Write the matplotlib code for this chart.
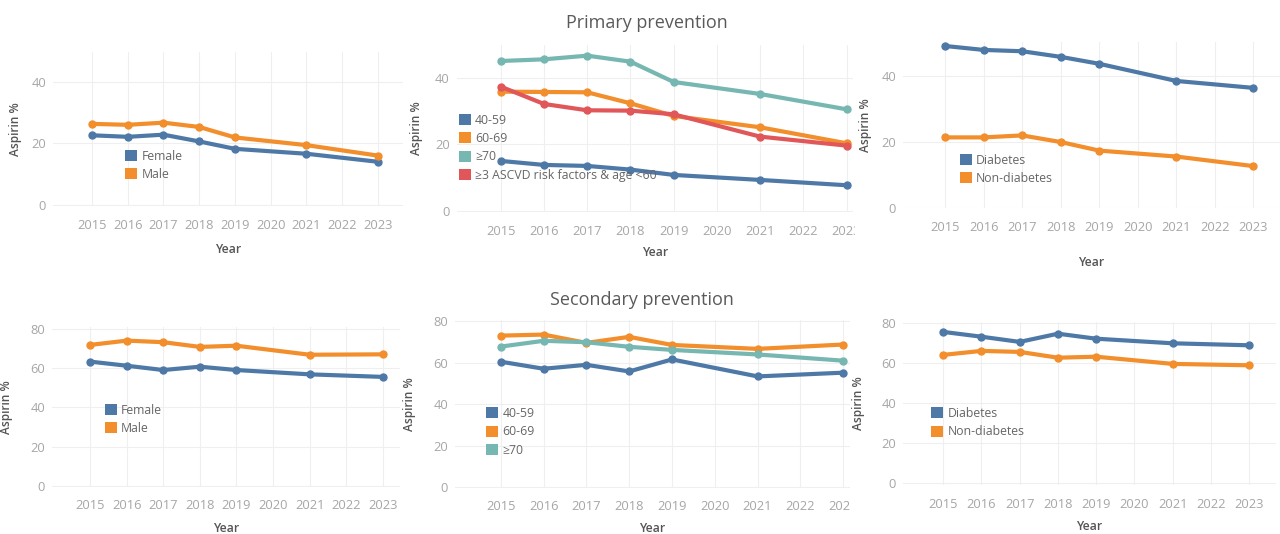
import matplotlib
matplotlib.use("Agg")
import matplotlib.pyplot as plt
from matplotlib.patches import Patch
from matplotlib.transforms import Bbox

plt.rcParams['font.family'] = ['Open Sans', 'DejaVu Sans']

W, H = 1280, 534

years = [2015, 2016, 2017, 2018, 2019, 2021, 2023]
year_ticks = list(range(2015, 2024))

# primary prevention (%)
p_female = [22.6, 22.1, 22.8, 20.6, 18.2, 16.6, 14.0]
p_male = [26.3, 26.0, 26.7, 25.3, 21.9, 19.4, 16.0]
p_40_59 = [15.0, 13.8, 13.5, 12.4, 10.8, 9.3, 7.7]
p_60_69 = [35.8, 35.7, 35.6, 32.3, 28.5, 25.1, 20.3]
p_70 = [45.0, 45.5, 46.6, 44.8, 38.7, 35.1, 30.5]
p_ascvd = [37.3, 32.1, 30.2, 30.1, 29.0, 22.3, 19.6]
p_diab = [49.0, 47.8, 47.4, 45.7, 43.6, 38.4, 36.3]
p_nondiab = [21.3, 21.3, 21.9, 19.9, 17.3, 15.5, 12.6]

# secondary prevention (%)
s_female = [63.4, 61.3, 59.1, 60.8, 59.1, 56.9, 55.6]
s_male = [71.9, 74.1, 73.3, 70.9, 71.5, 66.9, 67.1]
s_40_59 = [60.5, 57.1, 59.0, 55.8, 61.6, 53.4, 55.2]
s_60_69 = [73.1, 73.6, 69.6, 72.5, 68.6, 66.7, 68.8]
s_70 = [67.8, 70.6, 69.9, 67.7, 66.2, 64.0, 61.0]
s_diab = [75.7, 73.3, 70.7, 74.8, 72.3, 70.0, 69.0]
s_nondiab = [64.2, 66.2, 65.7, 62.8, 63.3, 59.7, 59.0]

sex_labels = ["Female", "Male"]
age_labels = ["40-59", "60-69", "\u226570", "\u22653 ASCVD risk factors & age <60"]
diab_labels = ["Diabetes", "Non-diabetes"]

BLUE, ORANGE, TEAL, RED = "#4e79a7", "#f28e2b", "#76b7b2", "#e15759"

fig = plt.figure(figsize=(W / 100, H / 100), dpi=100)

# panel boxes in pixels: left, top, right, bottom ; legend top-left ; ylabel offset ; xlabel pad ; clip x
panels = [
    dict(box=(53, 51.7, 403, 206), xlim=(2013.91, 2023.70), ylim=(-0.36, 49.74), yt=[0, 20, 40],
         series=[p_female, p_male], colors=[BLUE, ORANGE], labels=sex_labels,
         leg=(125, 149.5), yoff=31, lpad=8, clip=None),
    dict(box=(456.7, 45, 853, 212), xlim=(2013.98, 2023.15), ylim=(-0.33, 49.8), yt=[0, 20, 40],
         series=[p_40_59, p_60_69, p_70, p_ascvd], colors=[BLUE, ORANGE, TEAL, RED], labels=age_labels,
         leg=(458.5, 113.5), yoff=34, lpad=6, clip=855),
    dict(box=(903, 42, 1280, 208), xlim=(2013.91, 2023.69), ylim=(-0.09, 50.2), yt=[0, 20, 40],
         series=[p_diab, p_nondiab], colors=[BLUE, ORANGE], labels=diab_labels,
         leg=(959.5, 153.5), yoff=31, lpad=16, clip=None),
    dict(box=(52, 326.7, 400, 486.7), xlim=(2013.96, 2023.47), ylim=(-0.4, 81.2), yt=[0, 20, 40, 60, 80],
         series=[s_female, s_male], colors=[BLUE, ORANGE], labels=sex_labels,
         leg=(104.5, 403.5), yoff=39, lpad=7, clip=None),
    dict(box=(455, 320.3, 850, 488), xlim=(2013.93, 2023.16), ylim=(-0.5, 80.5), yt=[0, 20, 40, 60, 80],
         series=[s_40_59, s_60_69, s_70], colors=[BLUE, ORANGE, TEAL], labels=age_labels[:3],
         leg=(486, 406.8), yoff=39, lpad=6, clip=850),
    dict(box=(903, 321.7, 1276, 485), xlim=(2013.95, 2023.7), ylim=(-0.85, 80.8), yt=[0, 20, 40, 60, 80],
         series=[s_diab, s_nondiab], colors=[BLUE, ORANGE], labels=diab_labels,
         leg=(931, 406.8), yoff=38, lpad=7, clip=None),
]

for p in panels:
    l, t, r, b = p["box"]
    ax = fig.add_axes([l / W, 1 - b / H, (r - l) / W, (b - t) / H])
    for vals, c in zip(p["series"], p["colors"]):
        ax.plot(years, vals, color=c, lw=3.0, marker="o", ms=5, solid_capstyle="round")
    ax.set_xlim(*p["xlim"])
    ax.set_ylim(*p["ylim"])
    ax.set_xticks(year_ticks)
    ax.set_yticks(p["yt"])
    ax.grid(True, color="#efefef", lw=0.8)
    ax.set_axisbelow(True)
    for s in ax.spines.values():
        s.set_visible(False)
    ax.tick_params(length=0, labelsize=9.3, labelcolor="#a6a6a6")
    ax.tick_params(axis="x", pad=9)
    ax.tick_params(axis="y", pad=5)
    ax.set_xlabel("Year", fontsize=8.8, fontweight="semibold", color="#555555", labelpad=p["lpad"])
    ax.set_ylabel("Aspirin %", fontsize=8.6, fontweight="semibold", color="#555555")
    ax.yaxis.set_label_coords(-p["yoff"] / (r - l), 0.5)
    if p["clip"] is not None:
        cb = Bbox([[0, 0], [p["clip"], H]])
        for tl in ax.get_xticklabels():
            tl.set_clip_box(cb)
            tl.set_clip_on(True)
    handles = [Patch(facecolor=c, edgecolor="none") for c in p["colors"]]
    lx, ly = p["leg"]
    ax.legend(handles, p["labels"], loc="upper left", bbox_to_anchor=(lx / W, 1 - ly / H),
              bbox_transform=fig.transFigure, frameon=False, borderpad=0, borderaxespad=0,
              handlelength=1.0, handleheight=1.0, handletextpad=0.35, labelspacing=0.45,
              fontsize=8.8, labelcolor="#666666")

fig.text(647 / W, 1 - 23 / H, "Primary prevention", ha="center", va="center", fontsize=13, color="#5a5a5a")
fig.text(642 / W, 1 - 300 / H, "Secondary prevention", ha="center", va="center", fontsize=13, color="#5a5a5a")

fig.savefig("out.png", dpi=100, facecolor="white")
